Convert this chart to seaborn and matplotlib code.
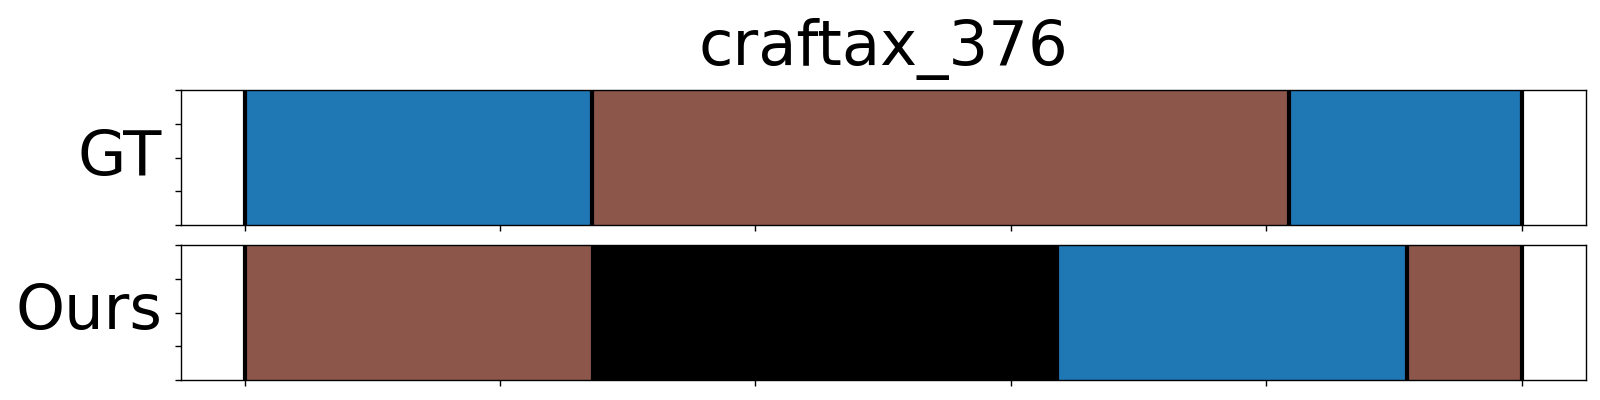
import matplotlib
matplotlib.use("Agg")
import matplotlib.pyplot as plt
import seaborn as sns

title = "craftax_376"
row_names = ["GT", "Ours"]
gt_bounds = [0, 136, 409, 500]
gt_labels = ["blue", "brown", "blue"]
ours_bounds = [0, 136.5, 318, 455, 500]
ours_labels = ["brown", "black", "blue", "brown"]
xticks = [0, 100, 200, 300, 400, 500]
yticks = [0, 0.25, 0.5, 0.75, 1.0]

palette = {"blue": "#1f77b4", "brown": "#8c564b", "black": "#000000"}

sns.set_theme(style="ticks")
plt.rcParams["font.family"] = ["DejaVu Sans"]
plt.rcParams["text.color"] = "black"
plt.rcParams["axes.labelcolor"] = "black"

fig = plt.figure(figsize=(16, 4), dpi=100)
ax1 = fig.add_axes([0.113, 0.4375, 0.878, 0.3375])
ax2 = fig.add_axes([0.113, 0.05, 0.878, 0.3375])

for ax, name, bounds, labels in [(ax1, row_names[0], gt_bounds, gt_labels),
                                 (ax2, row_names[1], ours_bounds, ours_labels)]:
    for i, lab in enumerate(labels):
        ax.barh(0.5, bounds[i + 1] - bounds[i], left=bounds[i], height=1.0,
                color=palette[lab], edgecolor="none", linewidth=0)
    for b in bounds:
        ax.axvline(b, color="black", linewidth=3)
    ax.set_xlim(-25, 525)
    ax.set_ylim(0, 1)
    ax.set_xticks(xticks)
    ax.set_xticklabels([])
    ax.set_yticks(yticks)
    ax.set_yticklabels([])
    ax.set_ylabel(name, fontsize=45, rotation=0, ha="right", va="center",
                  labelpad=6, color="black")
    for s in ax.spines.values():
        s.set_visible(True)
        s.set_color("black")
        s.set_linewidth(1.0)
    ax.tick_params(colors="black", length=4, width=1)

ax1.set_title(title, fontsize=45, pad=18, color="black")

fig.savefig("out.png", dpi=100)
